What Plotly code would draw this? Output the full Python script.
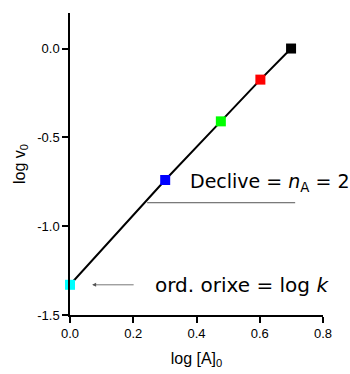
import plotly.graph_objects as go

log_A = [0.0, 0.301, 0.477, 0.602, 0.699]
log_v = [-1.33, -0.74, -0.41, -0.175, 0.0]
colors = ["#00FFFF", "#0000FF", "#00FF00", "#FF0000", "#000000"]

x_ticks = [0.0, 0.2, 0.4, 0.6, 0.8]
x_ticktext = ["0.0", "0.2", "0.4", "0.6", "0.8"]
y_ticks = [0.0, -0.5, -1.0, -1.5]
y_ticktext = ["0.0", "-0.5", "-1.0", "-1.5"]

fig = go.Figure()
fig.add_trace(go.Scatter(x=log_A, y=log_v, mode="lines",
                         line=dict(color="black", width=2), showlegend=False))
fig.add_trace(go.Scatter(x=log_A, y=log_v, mode="markers",
                         marker=dict(symbol="square", size=10, color=colors,
                                     line=dict(width=0)),
                         showlegend=False, cliponaxis=False))

fig.add_annotation(x=0.373, y=-0.753, xref="x", yref="y", xanchor="left", yanchor="middle",
                   text="Declive = <i>n</i><sub>A</sub> = 2",
                   showarrow=False, font=dict(family="DejaVu Sans", size=19, color="black"))
fig.add_annotation(x=0.263, y=-1.33, xref="x", yref="y", xanchor="left", yanchor="middle",
                   text="ord. orixe = log <i>k</i>", showarrow=False,
                   font=dict(family="DejaVu Sans", size=20, color="black"))
fig.add_shape(type="line", x0=0.244, x1=0.712, y0=-0.868, y1=-0.868, xref="x", yref="y",
              line=dict(color="#555555", width=1))
fig.add_annotation(x=0.07, y=-1.33, ax=0.206, ay=-1.33, xref="x", yref="y", axref="x", ayref="y",
                   text="", showarrow=True, arrowhead=2, arrowsize=1, arrowwidth=0.8,
                   arrowcolor="#555555")

fig.update_layout(
    width=350, height=374,
    margin=dict(l=70, r=27, t=13, b=59),
    plot_bgcolor="white", paper_bgcolor="white",
    font=dict(family="Liberation Sans, Arial", size=13, color="black"),
    xaxis=dict(range=[0, 0.8], tickvals=x_ticks, ticktext=x_ticktext,
               showgrid=False, zeroline=False, showline=True, linecolor="black", linewidth=1.5,
               ticks="outside", ticklen=6, tickwidth=1.5, tickcolor="black",
               automargin=False,
               title=dict(text="log [A]<sub>0</sub>", font=dict(size=16), standoff=12)),
    yaxis=dict(range=[-1.5, 0.2], tickvals=y_ticks, ticktext=y_ticktext,
               showgrid=False, zeroline=False, showline=True, linecolor="black", linewidth=1.5,
               ticks="outside", ticklen=6, tickwidth=1.5, tickcolor="black",
               automargin=False,
               title=dict(text="log v<sub>0</sub>", font=dict(size=16), standoff=8)),
)
fig.write_html("out.html", config={"displayModeBar": False},
               post_script="document.body.style.margin='0';document.body.style.overflow='hidden';")
